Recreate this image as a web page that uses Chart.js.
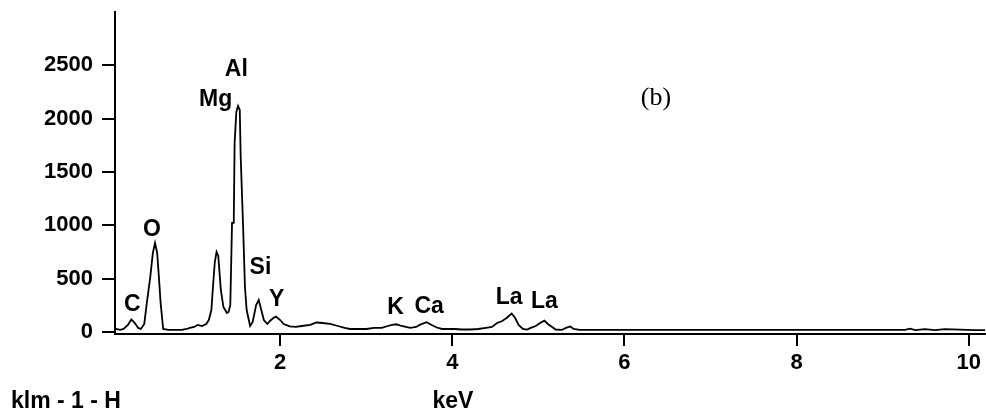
<!DOCTYPE html>
<html lang="en">
<head>
    <meta charset="utf-8" />
    <title>EDS spectrum (b)</title>
    <script src="https://cdn.jsdelivr.net/npm/chart.js"></script>
    <style>
        html, body { margin: 0; padding: 0; background: #fff; }
        #spectrum { display: block; }
    </style>
</head>
<body>
    <canvas id="spectrum" width="986" height="416"></canvas>

    <script>
        // energies (keV) and counts
        const energies = [
            0.09, 0.14, 0.18, 0.23, 0.27, 0.31, 0.35, 0.38, 0.42, 0.45,
            0.49, 0.52, 0.545, 0.57, 0.59, 0.61, 0.64, 0.70, 0.78, 0.86,
            0.91, 0.95, 1.00, 1.04, 1.09, 1.14, 1.17, 1.20, 1.22, 1.24,
            1.26, 1.28, 1.31, 1.34, 1.38, 1.40, 1.42, 1.44, 1.46, 1.47,
            1.49, 1.51, 1.53, 1.54, 1.57, 1.59, 1.61, 1.65, 1.68, 1.72,
            1.75, 1.78, 1.81, 1.85, 1.88, 1.92, 1.95, 2.00, 2.04, 2.11,
            2.18, 2.25, 2.35, 2.42, 2.49, 2.58, 2.67, 2.75, 2.81, 2.90,
            3.00, 3.09, 3.18, 3.25, 3.30, 3.35, 3.41, 3.46, 3.51, 3.58,
            3.62, 3.70, 3.76, 3.82, 3.88, 3.95, 4.03, 4.11, 4.21, 4.30,
            4.39, 4.46, 4.52, 4.58, 4.63, 4.69, 4.73, 4.77, 4.82, 4.87,
            4.91, 4.97, 5.02, 5.07, 5.11, 5.16, 5.20, 5.27, 5.32, 5.37,
            5.41, 5.48, 5.95, 6.88, 8.04, 9.26, 9.32, 9.38, 9.49, 9.61,
            9.72, 9.90, 10.07, 10.19
        ];
        const counts = [
            28, 19, 28, 66, 117, 84, 38, 28, 75, 272,
            516, 741, 834, 741, 516, 272, 28, 19, 19, 19,
            28, 38, 47, 66, 56, 75, 112, 206, 441, 656,
            750, 713, 394, 234, 178, 188, 253, 1022, 1022, 1772,
            2063, 2119, 2081, 1660, 956, 422, 206, 56, 94, 253,
            300, 206, 112, 75, 103, 131, 145, 112, 75, 52,
            47, 56, 66, 89, 84, 75, 56, 38, 28, 28,
            28, 38, 38, 56, 66, 72, 56, 47, 38, 47,
            66, 91, 66, 42, 28, 28, 28, 23, 23, 28,
            38, 47, 84, 103, 131, 173, 131, 66, 28, 23,
            38, 56, 84, 106, 75, 47, 23, 19, 38, 52,
            28, 20, 20, 20, 20, 20, 32, 18, 26, 18,
            26, 22, 18, 18
        ];

        // element markers: text, keV, counts
        const peakNames = ['C', 'O', 'Mg', 'Al', 'Si', 'Y', 'K', 'Ca', 'La', 'La'];
        const peakEnergies = [0.28, 0.51, 1.25, 1.49, 1.77, 1.96, 3.34, 3.73, 4.66, 5.07];
        const peakCounts = [255, 960, 2180, 2460, 600, 300, 225, 235, 320, 285];

        const xTicks = [2, 4, 6, 8, 10];
        const yTicks = [0, 500, 1000, 1500, 2000, 2500];

        const tickFont = { family: '"Liberation Sans", Arial, sans-serif', size: 22, weight: 'bold' };

        const annotations = {
            id: 'annotations',
            afterDraw(chart) {
                const { ctx, scales } = chart;
                ctx.save();
                ctx.fillStyle = '#000';
                ctx.textAlign = 'center';
                ctx.textBaseline = 'middle';
                ctx.font = 'bold 23px "Liberation Sans", Arial, sans-serif';
                peakNames.forEach((name, i) => {
                    ctx.fillText(name, scales.x.getPixelForValue(peakEnergies[i]),
                        scales.y.getPixelForValue(peakCounts[i]));
                });

                ctx.textAlign = 'left';
                ctx.fillText('klm - 1 - H', 11, 402);
                ctx.textAlign = 'center';
                ctx.fillText('keV', 453, 402);

                ctx.font = '26px "Liberation Serif", "Times New Roman", serif';
                ctx.fillText('(b)', 656, 98);
                ctx.restore();
            }
        };

        new Chart(document.getElementById('spectrum'), {
            type: 'line',
            data: {
                datasets: [{
                    data: energies.map((e, i) => ({ x: e, y: counts[i] })),
                    borderColor: '#000',
                    borderWidth: 1.8,
                    pointRadius: 0,
                    tension: 0,
                    fill: false
                }]
            },
            options: {
                responsive: false,
                animation: false,
                devicePixelRatio: 1,
                layout: { padding: { top: 12, right: 1, left: 0, bottom: 0 } },
                plugins: { legend: { display: false }, tooltip: { enabled: false } },
                scales: {
                    x: {
                        type: 'linear',
                        min: 0.08,
                        max: 10.19,
                        afterBuildTicks: s => { s.ticks = xTicks.map(v => ({ value: v })); },
                        afterFit: s => { s.height = 82; s.paddingLeft = 0; s.paddingRight = 0; },
                        border: { display: true, color: '#000', width: 2 },
                        grid: { drawOnChartArea: false, drawTicks: true, tickLength: 12, color: '#000', lineWidth: 2 },
                        ticks: { color: '#000', font: tickFont, padding: 4, maxRotation: 0, callback: v => String(v) }
                    },
                    y: {
                        min: -19,
                        max: 3000,
                        afterBuildTicks: s => { s.ticks = yTicks.map(v => ({ value: v })); },
                        afterFit: s => { s.width = 115; s.paddingTop = 0; s.paddingBottom = 0; },
                        border: { display: true, color: '#000', width: 2 },
                        grid: { drawOnChartArea: false, drawTicks: true, tickLength: 13, color: '#000', lineWidth: 2 },
                        ticks: { color: '#000', font: tickFont, padding: 9, callback: v => String(v) }
                    }
                }
            },
            plugins: [annotations]
        });
    </script>
</body>
</html>
